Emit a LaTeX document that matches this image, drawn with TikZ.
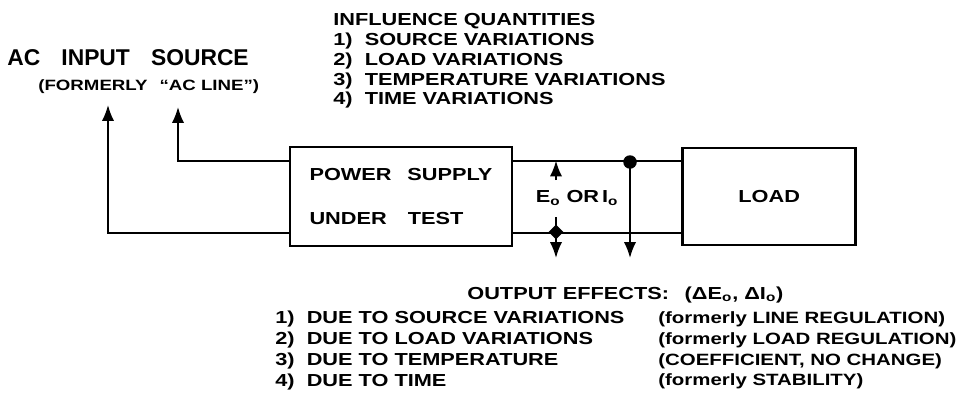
\documentclass[tikz,border=0pt]{standalone}
\usepackage{fontspec}
\setmainfont{Liberation Sans}
\newfontfamily\widefont[FakeStretch=1.25]{Liberation Sans}
\usepackage{tikz}
\usetikzlibrary{arrows.meta, positioning, shapes.geometric}
\newcommand{\notefont}{\widefont\bfseries\fontsize{9.9}{11.2}\selectfont}
\newcommand{\listfont}{\widefont\bfseries\fontsize{9.9}{11.9}\selectfont}
\newcommand{\sidefont}{\widefont\bfseries\fontsize{9.3}{11.9}\selectfont}
\newcommand{\titlefont}{\bfseries\fontsize{13}{15}\selectfont}
\newcommand{\subtitlefont}{\widefont\bfseries\fontsize{8.5}{10}\selectfont}
\tikzstyle{unit} = [rectangle, draw=black, line width=1.6pt, align=left, font=\notefont]
\tikzstyle{txt} = [inner sep=0pt, align=left, font=\notefont]
\tikzstyle{wire} = [line width=1.1pt]
\tikzstyle{arrow} = [line width=1.1pt, ->, >={Latex[length=9pt,width=7pt]}]
\tikzstyle{dot} = [circle, fill=black, inner sep=0pt, minimum size=0.27cm]
\tikzstyle{junction} = [diamond, fill=black, inner sep=0pt, minimum size=0.3cm]

\begin{document}
\begin{tikzpicture}[x=0.02cm, y=-0.02cm]
\useasboundingbox (0,0) rectangle (976,392);

% source side
\node[anchor=base west, inner sep=0pt, font=\titlefont] (acsrc) at (7,65) {AC\hspace{12pt}INPUT\hspace{12pt}SOURCE};
\node[anchor=base west, inner sep=0pt, font=\subtitlefont] (formerly) at (38,90) {(FORMERLY\hspace{0.8em}“AC LINE”)};
\coordinate (lineL) at (108,105);
\coordinate (lineN) at (178,107);

% supply and load
\node[unit, minimum width=4.44cm, minimum height=1.98cm] (psut) at (401,196.5) {POWER\hspace{9pt}SUPPLY\\[14pt]UNDER\hspace{12pt}TEST};
\node[unit, minimum width=3.46cm, minimum height=1.94cm, right=3.36cm of psut] (load) {LOAD};

\draw [arrow] ([yshift=0.28cm]psut.south west) -| (lineL);
\draw [arrow] ([yshift=-0.3cm]psut.north west) -| (lineN);

\coordinate (outtop) at ([yshift=-0.3cm]psut.north east);
\coordinate (outbot) at ([yshift=0.28cm]psut.south east);
\draw [wire] (outtop) -- (outtop -| load.west);
\draw [wire] (outbot) -- (outbot -| load.west);

% output measurement
\coordinate (eup) at (556,180);
\coordinate (elow) at (556,217);
\coordinate (edown) at (556,258);
\coordinate (tapend) at (630,258);
\draw [arrow] (eup) -- (eup |- outtop);
\draw [arrow] (elow) -- (edown);
\node[junction] (meas) at (556,232) {};
\node[dot] (tap) at (630,162) {};
\draw [arrow] (tap.center) -- (tapend);
\node[txt] (eo) at (577,198) {E\textsubscript{o} OR\,I\textsubscript{o}};

% influence quantities
\node[txt, anchor=north west] (influence) at (333,13.5) {INFLUENCE QUANTITIES\\1)~~SOURCE VARIATIONS\\2)~~LOAD VARIATIONS\\3)~~TEMPERATURE VARIATIONS\\4)~~TIME VARIATIONS};

% output effects
\node[txt, anchor=base west] (effects) at (467,299) {OUTPUT EFFECTS:\hspace{0.9em}(ΔE\textsubscript{o}, ΔI\textsubscript{o})};
\node[txt, anchor=north west, font=\listfont] (causes) at (275,311) {1)~~DUE TO SOURCE VARIATIONS\\2)~~DUE TO LOAD VARIATIONS\\3)~~DUE TO TEMPERATURE\\4)~~DUE TO TIME};
\node[txt, anchor=north west, font=\sidefont] (oldnames) at (658,311) {(formerly LINE REGULATION)\\(formerly LOAD REGULATION)\\(COEFFICIENT, NO CHANGE)\\(formerly STABILITY)};
\end{tikzpicture}
\end{document}
